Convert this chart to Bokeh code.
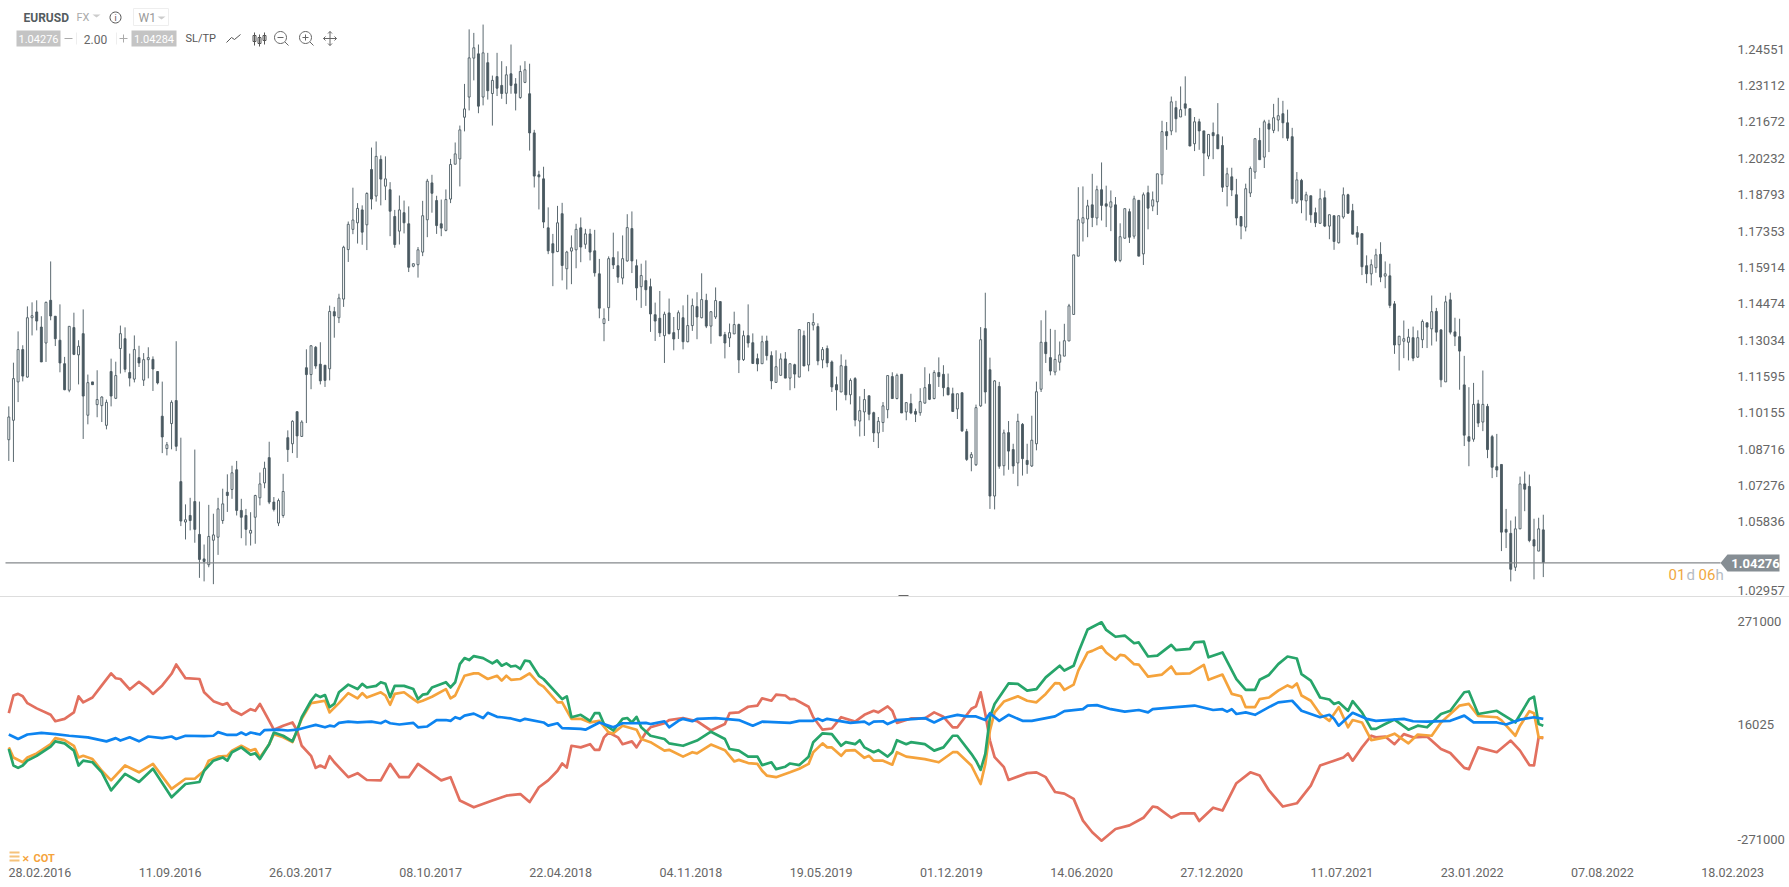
from math import cos, sin, pi
from bokeh.core.properties import value
from bokeh.embed import file_html
from bokeh.layouts import column
from bokeh.models import Div, FixedTicker, Range1d
from bokeh.plotting import figure
from bokeh.resources import INLINE

# EURUSD weekly candles, prices x 10000
opens = [10915,10992,11144,11272,11163,11398,11421,11361,11298,11467,
11404,11309,11216,11111,11359,11251,11335,11012,11144,11054,
11050,10972,11185,11079,11276,11315,11181,11155,11240,11151,
11232,11233,11185,11008,10880,10979,11070,10749,10589,10615,
10670,10540,10443,10420,10517,10529,10595,10707,10718,10796,
10635,10615,10545,10608,10685,10744,10844,10668,10585,10615,
10923,10899,11026,10928,11200,11173,11281,11214,11210,11196,
11422,11398,11472,11668,11748,11774,11825,11766,11985,11880,
12025,11919,11905,11799,11741,11814,11770,11602,11608,11658,
11786,11932,11862,11770,11744,11868,12006,12027,12192,12272,
12426,12443,12272,12408,12286,12353,12318,12287,12364,12324,
12270,12330,12285,12130,11964,11948,11754,11691,11660,11810,
11592,11662,11667,11754,11689,11730,11663,11572,11375,11438,
11636,11604,11555,11623,11751,11604,11521,11545,11521,11410,
11396,11327,11417,11339,11351,11398,11303,11367,11442,11398,
11467,11365,11401,11462,11331,11318,11334,11371,11232,11327,
11299,11236,11216,11306,11248,11142,11170,11235,11159,11212,
11163,11327,11211,11369,11363,11231,11276,11223,11133,11104,
11206,11093,11157,10989,11025,11089,11022,10942,10983,11034,
11165,11078,11174,11025,11058,11027,11022,11060,11134,11078,
11181,11174,11121,11097,11037,11101,10947,10844,10816,11049,
11355,11192,10692,11126,10812,10943,10876,10823,10976,10833,
10811,10899,11115,11301,11240,11183,11222,11246,11306,11411,
11642,11773,11789,11845,11793,11905,11849,11836,11845,11625,
11713,11818,11721,11863,11651,11893,11840,11857,11964,12135,
12138,12230,12193,12245,12226,12087,12174,12138,12038,12131,
12123,12080,11918,11956,11885,11799,11757,11892,11975,12100,
12034,12166,12140,12181,12206,12170,12115,11856,11942,11861,
11881,11814,11772,11873,11761,11802,11695,11797,11885,11822,
11735,11731,11604,11572,11596,11649,11563,11564,11453,11291,
11305,11301,11319,11242,11311,11378,11354,11423,11350,11144,
11469,11342,11323,11132,10927,10917,11057,10985,11047,10927,
10808,10817,10560,10544,10410,10562,10740,10730,10519,10474,10558]
highs = [11047,11220,11344,11289,11443,11459,11467,11404,11462,11621,
11404,11451,11243,11364,11418,11309,11431,11173,11144,11190,
11087,11074,11236,11224,11367,11360,11256,11328,11287,11258,
11281,11245,11187,11145,10906,11071,11305,10923,10659,10685,
10876,10670,10500,10657,10622,10685,10721,10778,10812,10831,
10681,10641,10628,10697,10785,10828,10907,10688,10682,10780,
10952,10992,11026,10992,11273,11289,11286,11301,11210,11446,
11441,11493,11683,11779,11913,11852,11843,11895,12072,12096,
12041,12037,11935,11825,11882,11862,11839,11612,11678,11861,
11948,11964,11881,11866,11906,12027,12092,12159,12324,12540,
12526,12480,12559,12447,12357,12447,12414,12394,12480,12347,
12397,12414,12404,12142,11980,11996,11835,11730,11841,11853,
11663,11724,11770,11795,11750,11750,11746,11631,11435,11641,
11735,11661,11724,11808,11819,11629,11612,11625,11553,11458,
11504,11422,11474,11401,11427,11447,11489,11474,11499,11574,
11493,11422,11518,11462,11342,11375,11422,11375,11347,11451,
11336,11256,11327,11327,11265,11269,11257,11262,11216,11216,
11351,11347,11379,11416,11376,11282,11288,11229,11165,11253,
11232,11158,11163,11087,11116,11089,11026,11005,11064,11169,
11182,11177,11174,11062,11097,11038,11119,11202,11177,11190,
11241,11210,11177,11121,11097,11101,10958,10866,11054,11361,
11497,11240,11151,11144,10955,10989,10899,11018,10981,10899,
11010,11145,11388,11427,11354,11350,11304,11374,11453,11647,
11915,11918,11865,11968,11921,12013,11921,11902,11876,11772,
11830,11830,11881,11863,11894,11921,11898,11968,12178,12173,
12274,12257,12314,12354,12226,12193,12186,12138,12124,12171,
12248,12116,11992,11992,11948,11799,11929,11997,12107,12150,
12182,12182,12245,12269,12257,12222,12150,11975,11948,11897,
11881,11834,11909,11901,11806,11802,11802,11914,11889,11849,
11761,11731,11645,11629,11671,11697,11621,11612,11464,11325,
11387,11354,11363,11348,11391,11378,11486,11437,11350,11485,
11497,11398,11394,11247,11123,11140,11073,11189,11057,10934,
10938,10817,10641,10595,10611,10769,10789,10777,10602,10606,10618]
lows = [10831,10827,11064,11146,11161,11328,11348,11223,11223,11388,
11286,11182,11111,11103,11250,11134,10918,10976,11133,11004,
10985,10956,11047,11076,11177,11182,11126,11142,11203,11128,
11158,11108,11134,10862,10853,10877,10870,10573,10520,10556,
10507,10368,10354,10410,10343,10459,10582,10629,10681,10615,
10525,10496,10496,10503,10655,10723,10660,10631,10573,10606,
10827,10862,10843,10926,10981,11115,11196,11134,11124,11150,
11319,11377,11441,11619,11729,11692,11687,11666,11827,11858,
11843,11864,11721,11675,11688,11732,11579,11598,11557,11642,
11717,11814,11730,11721,11740,11852,12006,11918,12136,12219,
12338,12208,12239,12262,12159,12276,12265,12244,12285,12219,
12265,12327,12060,11914,11827,11753,11650,11523,11658,11546,
11510,11531,11594,11618,11671,11625,11561,11396,11305,11385,
11591,11536,11530,11620,11575,11467,11437,11445,11342,11306,
11322,11219,11332,11269,11314,11273,11301,11346,11313,11396,
11357,11295,11393,11326,11237,11282,11334,11179,11227,11280,
11216,11186,11216,11229,11115,11142,11170,11159,11111,11119,
11163,11207,11186,11348,11210,11198,11202,11104,11031,11104,
11071,11055,10968,10928,10930,10992,10906,10882,10946,11000,
11078,11075,11021,10992,11016,10985,11010,11058,11072,11075,
11124,11087,11091,11025,10997,10946,10831,10790,10811,11045,
11058,10641,10639,10800,10773,10796,10780,10731,10773,10780,
10807,10873,11104,11219,11170,11170,11189,11246,11306,11411,
11642,11700,11717,11757,11764,11783,11757,11741,11618,11618,
11711,11694,11711,11642,11607,11748,11820,11805,11926,12063,
12121,12132,12193,12198,12078,12058,12063,11959,12026,12026,
12067,11896,11839,11880,11764,11709,11740,11876,11948,12024,
11991,12054,12129,12136,12109,12098,11849,11849,11812,11783,
11774,11757,11772,11757,11709,11667,11692,11790,11810,11729,
11687,11567,11535,11526,11576,11539,11515,11436,11255,11189,
11238,11229,11226,11239,11278,11278,11288,11304,11123,11144,
11332,11286,11113,10890,10810,10907,10965,10949,10842,10763,
10767,10474,10486,10354,10395,10562,10632,10509,10362,10474,10371]
closes = [11005,11157,11272,11167,11398,11406,11385,11223,11459,11405,
11315,11219,11113,11364,11253,11285,11088,11141,11133,11074,
11084,11063,11088,11169,11335,11194,11159,11272,11219,11232,
11240,11195,11140,10926,10895,11063,10889,10593,10598,10595,
10560,10441,10433,10532,10538,10641,10661,10694,10784,10635,
10608,10560,10556,10694,10740,10802,10668,10639,10674,10710,
10876,10988,10930,10985,11173,11287,11207,11148,11150,11423,
11405,11476,11677,11768,11785,11831,11737,11890,11868,12037,
11947,11948,11820,11688,11825,11774,11598,11612,11667,11802,
11939,11891,11763,11753,11866,12005,12047,12142,12225,12427,
12467,12236,12447,12297,12338,12307,12286,12360,12318,12287,
12373,12380,12130,11959,11956,11777,11663,11655,11774,11605,
11658,11675,11748,11678,11730,11658,11576,11436,11394,11632,
11607,11559,11632,11755,11623,11516,11565,11509,11413,11385,
11338,11412,11335,11314,11418,11303,11367,11446,11401,11470,
11365,11422,11466,11326,11298,11339,11371,11231,11327,11298,
11217,11215,11303,11248,11148,11204,11235,11159,11216,11175,
11351,11207,11379,11379,11227,11272,11219,11124,11112,11208,
11093,11150,10993,11030,11074,11016,10942,10988,11049,11169,
11078,11170,11021,11062,11021,11016,11066,11121,11075,11181,
11165,11121,11093,11027,11097,10950,10837,10856,11042,11311,
11104,10692,11148,10810,10942,10870,10811,10988,10840,10817,
10913,11105,11301,11256,11187,11233,11251,11307,11445,11647,
11786,11794,11841,11795,11905,11843,11840,11857,11625,11719,
11830,11717,11869,11642,11885,11832,11865,11968,12135,12119,
12253,12186,12222,12228,12078,12174,12138,12050,12124,12119,
12067,11915,11968,11904,11793,11761,11909,11989,12107,12024,
12174,12145,12190,12198,12170,12109,11869,11944,11864,11885,
11806,11774,11869,11761,11806,11700,11802,11885,11812,11729,
11717,11600,11572,11608,11647,11559,11572,11447,11290,11325,
11315,11321,11238,11319,11383,11361,11422,11341,11152,11461,
11341,11325,11266,10933,10909,11055,10981,11055,10876,10806,
10795,10549,10549,10402,10562,10740,10719,10516,10494,10562,10429]

# COT series: (week, contracts in thousands)
cot_red = [(0,43),(1,87),(2,91),(3,85),(4,68),(6,55),(9,39),(10,23),(12,29),(14,45),(15,85),(16,70),(18,82),(20,112),(22,142),(23,130),(24,128),(26,102),(28,121),(30,103),(31,91),(33,112),(35,141),(36,164),(38,130),(41,128),(42,95),(44,73),(46,64),(47,68),(48,51),(50,39),(52,53),(53,49),(54,66),(56,24),(57,2),(59,12),(61,20),(62,0),(63,-38),(65,-63),(66,-93),(67,-87),(68,-93),(69,-64),(70,-79),(73,-116),(75,-106),(77,-123),(80,-124),(82,-83),(84,-116),(86,-116),(88,-83),(91,-108),(93,-124),(95,-116),(97,-174),(100,-191),(104,-174),(107,-162),(110,-158),(112,-178),(114,-141),(116,-124),(118,-100),(119,-82),(120,-92),(121,-38),(123,-42),(125,-34),(126,-48),(127,-48),(128,-17),(129,-5),(131,-17),(132,-34),(134,-27),(135,-42),(137,-5),(138,8),(141,18),(142,26),(145,31),(148,23),(151,0),(154,16),(155,43),(157,45),(159,59),(161,62),(162,80),(164,74),(165,89),(167,87),(168,78),(169,78),(172,59),(173,33),(175,2),(177,5),(179,33),(182,22),(184,39),(186,49),(187,45),(189,60),(190,49),(191,19),(194,30),(197,30),(199,45),(201,34),(203,8),(204,8),(207,54),(208,60),(209,95),(210,41),(211,-25),(212,-66),(214,-91),(215,-123),(219,-106),(221,-104),(223,-116),(225,-153),(227,-157),(229,-170),(231,-224),(233,-253),(235,-274),(238,-245),(241,-236),(244,-217),(246,-189),(247,-191),(250,-217),(252,-206),(255,-206),(256,-225),(259,-192),(261,-199),(264,-131),(267,-104),(269,-112),(271,-149),(274,-189),(277,-181),(280,-137),(282,-87),(285,-75),(287,-67),(288,-57),(289,-75),(291,-42),(293,-13),(294,-17),(296,-15),(298,-34),(300,-9),(302,-17),(305,-15),(308,-46),(310,-56),(313,-93),(314,-96),(316,-42),(320,-54),(323,-25),(325,-50),(327,-86),(328,-87),(329,-17),(330,-19)]
cot_green = [(0,-46),(1,-87),(2,-93),(3,-87),(4,-75),(6,-63),(9,-40),(10,-27),(12,-32),(14,-50),(15,-87),(16,-75),(18,-79),(20,-104),(22,-149),(25,-108),(28,-128),(31,-95),(35,-166),(38,-133),(41,-128),(42,-100),(44,-75),(46,-67),(47,-75),(48,-54),(50,-42),(52,-60),(53,-57),(54,-71),(56,-34),(57,-5),(59,-13),(61,-27),(62,0),(63,33),(65,74),(66,89),(67,83),(68,88),(69,58),(70,66),(71,95),(73,114),(75,103),(76,116),(77,107),(79,111),(80,120),(81,116),(82,83),(83,111),(85,111),(87,103),(88,78),(89,89),(90,91),(91,107),(94,120),(95,107),(96,120),(97,165),(98,180),(99,175),(100,185),(102,180),(104,167),(105,174),(106,161),(107,167),(108,159),(109,161),(110,153),(111,174),(112,172),(114,136),(115,128),(119,78),(120,85),(121,33),(123,39),(125,24),(126,43),(127,43),(128,16),(130,0),(132,29),(133,31),(134,20),(135,34),(136,8),(138,-13),(141,-21),(142,-32),(145,-38),(148,-25),(151,-3),(154,-21),(155,-46),(157,-50),(159,-65),(161,-65),(162,-86),(164,-79),(165,-96),(167,-90),(168,-82),(170,-86),(172,-65),(173,-29),(175,-7),(177,-9),(179,-38),(180,-29),(182,-34),(183,-24),(184,-42),(186,-54),(187,-49),(189,-65),(190,-54),(191,-24),(193,-34),(194,-29),(197,-34),(199,-50),(201,-42),(203,-13),(204,-13),(207,-58),(208,-75),(209,-98),(210,-58),(211,33),(212,66),(215,117),(217,116),(219,99),(221,103),(223,132),(226,161),(227,149),(229,161),(230,194),(232,251),(235,269),(236,250),(238,233),(240,236),(242,217),(243,219),(245,184),(247,186),(250,213),(251,200),(254,203),(255,219),(257,221),(258,182),(261,194),(264,128),(266,101),(268,101),(269,126),(271,138),(273,165),(275,184),(277,179),(278,140),(280,124),(282,82),(284,77),(285,66),(286,70),(288,49),(289,73),(291,45),(293,4),(294,4),(296,16),(298,27),(301,2),(303,12),(305,8),(308,41),(310,49),(313,95),(314,97),(316,41),(320,49),(324,20),(325,39),(327,78),(328,84),(329,16),(330,12)]
cot_orange = [(0,-42),(1,-67),(3,-79),(4,-67),(6,-57),(9,-34),(10,-19),(12,-24),(14,-38),(15,-67),(16,-63),(18,-71),(20,-100),(22,-124),(25,-87),(28,-104),(31,-83),(35,-145),(38,-120),(40,-120),(42,-100),(43,-75),(45,-65),(47,-63),(48,-50),(50,-38),(52,-50),(53,-46),(54,-67),(56,-34),(57,-9),(59,-17),(61,-29),(62,0),(63,29),(65,68),(66,70),(68,74),(69,45),(71,68),(73,93),(75,80),(76,93),(77,82),(80,95),(81,87),(82,64),(83,91),(85,95),(87,78),(88,70),(89,74),(91,84),(94,103),(95,80),(96,87),(98,136),(100,142),(101,142),(103,128),(105,136),(106,124),(107,136),(108,126),(110,128),(112,142),(114,116),(115,109),(118,70),(119,70),(121,29),(123,29),(125,20),(127,24),(129,-5),(130,-7),(132,12),(135,2),(136,-21),(138,-29),(141,-50),(142,-48),(145,-65),(147,-54),(148,-57),(151,-35),(154,-49),(156,-77),(157,-73),(159,-81),(161,-83),(162,-100),(163,-112),(165,-116),(168,-104),(170,-95),(172,-83),(173,-54),(175,-32),(176,-42),(177,-42),(179,-63),(180,-50),(182,-49),(184,-68),(185,-63),(186,-75),(188,-75),(190,-85),(191,-54),(193,-65),(197,-71),(200,-79),(203,-54),(204,-54),(207,-87),(209,-133),(210,-83),(211,0),(212,45),(214,72),(217,85),(219,74),(221,70),(223,91),(225,118),(226,117),(227,101),(229,114),(230,149),(232,194),(233,198),(235,209),(236,194),(238,176),(239,188),(240,186),(242,165),(243,164),(245,134),(248,139),(249,149),(250,159),(251,141),(254,142),(257,163),(258,126),(261,139),(263,91),(265,85),(266,58),(268,58),(269,78),(271,82),(273,99),(275,112),(276,107),(277,117),(278,87),(280,74),(282,41),(284,24),(286,58),(288,8),(289,26),(291,20),(293,-24),(296,-17),(298,-8),(301,-32),(303,-10),(306,-13),(308,20),(312,62),(314,66),(316,36),(320,33),(321,25),(324,-13),(325,12),(327,48),(328,43),(329,-17),(330,-17)]
cot_blue = [(0,-10),(2,-21),(4,-10),(7,-6),(10,-9),(13,-13),(17,-17),(21,-27),(23,-19),(24,-25),(26,-17),(28,-27),(30,-15),(33,-19),(35,-15),(36,-21),(38,-13),(42,-14),(44,-13),(45,-4),(47,-11),(49,-11),(50,-5),(51,-11),(52,-5),(54,-10),(55,1),(58,2),(60,0),(62,2),(64,8),(66,14),(68,8),(69,12),(70,10),(71,19),(73,22),(75,20),(78,22),(80,18),(81,24),(82,18),(84,15),(87,19),(88,8),(90,10),(92,26),(94,26),(95,24),(96,33),(97,29),(98,37),(100,42),(102,31),(103,44),(105,34),(106,33),(108,30),(110,24),(111,29),(115,20),(116,12),(118,18),(119,6),(123,4),(124,2),(127,20),(130,8),(132,18),(134,18),(137,19),(138,16),(141,23),(142,8),(144,24),(145,29),(147,23),(148,29),(152,31),(157,26),(160,12),(162,22),(168,19),(170,24),(173,24),(174,29),(175,24),(176,29),(181,19),(184,22),(185,15),(186,22),(188,23),(189,16),(191,26),(195,29),(197,31),(199,20),(201,31),(204,39),(206,35),(208,35),(210,26),(211,43),(213,24),(215,39),(218,24),(220,24),(225,35),(227,48),(231,53),(232,62),(234,63),(237,53),(240,47),(243,51),(245,45),(246,53),(251,58),(255,62),(259,51),(261,53),(262,47),(263,53),(264,41),(266,45),(268,39),(271,58),(273,70),(276,74),(278,49),(282,33),(284,39),(285,29),(286,12),(289,44),(292,29),(294,24),(300,29),(302,23),(305,22),(310,24),(313,37),(315,20),(320,20),(322,15),(325,27),(328,33),(330,29)]

price_ticks = [1.24551,1.23112,1.21672,1.20232,1.18793,1.17353,1.15914,1.14474,1.13034,1.11595,1.10155,1.08716,1.07276,1.05836,1.02957]
cot_ticks = [271000,16025,-271000]
date_labels = ["28.02.2016","11.09.2016","26.03.2017","08.10.2017","22.04.2018","04.11.2018","19.05.2019","01.12.2019","14.06.2020","27.12.2020","11.07.2021","23.01.2022","07.08.2022","18.02.2023"]
last_price = 1.04276
ask_price = 1.04284

W, FONT = 1789, "Roboto"
DARK = "#4a5961"
X0, Y0 = 8.3, 562.3   # reference pixel of week 0 and of the last price
PX_W, PX_P = 4.65, 0.000396   # pixel per week, price per pixel
wk = lambda px: (px - X0) / PX_W
pr = lambda py: last_price + (Y0 - py) * PX_P
cv = lambda py: (730 - py) * 2486

x_range = Range1d(wk(0), wk(1789))
top = figure(width=W, height=596, output_backend="svg", toolbar_location=None,
             x_range=x_range, y_range=Range1d(pr(596), pr(0)),
             y_axis_location="right", x_axis_location=None,
             min_border=0, outline_line_color=None)
top.frame_width, top.frame_height = W, 596
bot = figure(width=W, height=290, output_backend="svg", toolbar_location=None,
             x_range=x_range, y_range=Range1d(cv(862), cv(597)),
             y_axis_location="right", min_border=0, outline_line_color=None)
bot.frame_width, bot.frame_height = W, 265

def axis_style(ax):
    ax.axis_line_color = None
    ax.major_tick_line_color = None
    ax.minor_tick_line_color = None
    ax.major_label_text_font = FONT
    ax.major_label_text_font_size = "13px"
    ax.major_label_text_color = "#666666"

for f in (top, bot):
    f.grid.visible = False
    f.background_fill_color = "white"
    f.border_fill_color = "white"
    axis_style(f.yaxis[0])
    f.yaxis[0].major_label_standoff = -58

# price axis; labels sit just above their level and the lowest is pushed up by the chart
LABEL_LIFT = 0.0006
label_pos = [t + LABEL_LIFT if t > 1.03 else pr(589.7) for t in price_ticks]
top.yaxis[0].ticker = FixedTicker(ticks=label_pos)
top.yaxis[0].major_label_overrides = {p: f"{t:.5f}" for p, t in zip(label_pos, price_ticks)}
bot.yaxis[0].ticker = FixedTicker(ticks=cot_ticks)
bot.yaxis[0].major_label_overrides = {t: str(t) for t in cot_ticks}

# dates are left-aligned to their week in the original, so shift the centred axis label
LABEL_SHIFT = 6.7
date_weeks = [28 * i + LABEL_SHIFT for i in range(len(date_labels))]
ax = bot.xaxis[0]
axis_style(ax)
ax.major_label_text_font_size = "12.5px"
ax.ticker = FixedTicker(ticks=date_weeks)
ax.major_label_overrides = dict(zip(date_weeks, date_labels))
ax.major_label_standoff = -1

# candles
weeks = list(range(len(opens)))
O = [v / 1e4 for v in opens]; H = [v / 1e4 for v in highs]
L = [v / 1e4 for v in lows]; C = [v / 1e4 for v in closes]
top.segment(weeks, H, weeks, L, line_color=DARK, line_width=0.9)
up = [i for i in weeks if C[i] >= O[i]]
dn = [i for i in weeks if C[i] < O[i]]
top.vbar([i for i in dn], 0.42, [O[i] for i in dn], [C[i] for i in dn],
         fill_color=DARK, line_color=DARK, line_width=0.9)
top.vbar([i for i in up], 0.42, [C[i] for i in up], [O[i] for i in up],
         fill_color="white", line_color=DARK, line_width=0.9)

# last price line, badge and countdown
top.line([wk(5), wk(1720)], [last_price, last_price], line_color="#85898c", line_width=1.2)
top.patch([wk(v) for v in (1720, 1727, 1779, 1779, 1727)],
          [pr(v) for v in (562.5, 554, 554, 571, 571)], fill_color="#868e94", line_color=None)

def txt(f, x, y, s, color="#555555", size=12, bold=False, align="left"):
    f.text([x], [y], text=[s], text_color=color, text_font=value(FONT),
           text_font_size=f"{size}px", text_font_style="bold" if bold else "normal",
           text_align=align, text_baseline="middle")

def t_top(px, py, s, **k):
    txt(top, wk(px), pr(py), s, **k)

def ln(pts, color="#666666", width=1):
    top.line([wk(p[0]) for p in pts], [pr(p[1]) for p in pts], line_color=color, line_width=width)

def ring(cx, cy, r, color="#666666"):
    ln([(cx + r * cos(a * pi / 12), cy + r * sin(a * pi / 12)) for a in range(25)], color)

def box(x0, y0, x1, y1, color):
    top.patch([wk(v) for v in (x0, x1, x1, x0)], [pr(v) for v in (y0, y0, y1, y1)],
              fill_color=color, line_color=None)

t_top(1755, 563, f"{last_price:.5f}", color="white", size=13, bold=True, align="center")
for px, s, c in [(1668, "01", "#f0a840"), (1686, "d", "#b5bcc4"), (1698, "06", "#f0a840"), (1715, "h", "#b5bcc4")]:
    t_top(px, 574, s, color=c, size=15)

# header strip
t_top(23, 17, "EURUSD", color="#555c60", size=12, bold=True)
t_top(76, 17, "FX", color="#aaaaaa", size=11)
top.patch([wk(92), wk(100), wk(96)], [pr(14), pr(14), pr(17)], fill_color="#cccccc", line_color=None)
ring(115, 17, 5.5, "#555555")
t_top(115, 17, "i", color="#555555", size=9, align="center")
ln([(133, 8), (168, 8), (168, 25), (133, 25), (133, 8)], "#eeeeee")
t_top(138, 17, "W1", color="#999999", size=12)
top.patch([wk(157), wk(165), wk(161)], [pr(16), pr(16), pr(19)], fill_color="#cccccc", line_color=None)
box(16, 30, 60, 46, "#c4c4c4")
box(131, 30, 176, 46, "#c4c4c4")
t_top(38, 38.5, f"{last_price:.5f}", color="white", size=11, align="center")
t_top(153.5, 38.5, f"{ask_price:.5f}", color="white", size=11, align="center")
ln([(64, 38), (72, 38)], "#aaaaaa")
ln([(119, 38), (127, 38)], "#aaaaaa")
ln([(123, 34), (123, 42)], "#aaaaaa")
ln([(76, 32), (76, 44)], "#eeeeee")
ln([(116, 32), (116, 44)], "#eeeeee")
t_top(95, 38.5, "2.00", color="#666666", size=12, align="center")
t_top(185, 38, "SL/TP", color="#555555", size=11)
ln([(226, 42), (231, 37), (234, 39), (240, 34)], "#555555")
for cx, (a, b, c, d) in [(254, (32, 35, 41, 45)), (259, (34, 37, 43, 46)), (264, (32, 35, 40, 44))]:
    ln([(cx, a), (cx, d)], "#555555")
    ln([(cx - 1.5, b), (cx + 1.5, b), (cx + 1.5, c), (cx - 1.5, c), (cx - 1.5, b)], "#555555")
ring(280, 37, 6)
ln([(284.5, 41.5), (288, 45)])
ln([(277, 37), (283, 37)])
ring(305, 37, 6)
ln([(309.5, 41.5), (313, 45)])
ln([(302, 37), (308, 37)])
ln([(305, 34), (305, 40)])
ln([(323, 38), (336, 38)])
ln([(329.5, 31), (329.5, 45)])
for a, b, c in [((325, 36), (323, 38), (325, 40)), ((334, 36), (336, 38), (334, 40)),
                ((327.5, 33), (329.5, 31), (331.5, 33)), ((327.5, 43), (329.5, 45), (331.5, 43))]:
    ln([a, b, c])
box(898, 594.5, 908, 596, "#666666")

# COT lines
for series, color in [(cot_red, "#e2705f"), (cot_orange, "#f5a33c"), (cot_green, "#27a56a"), (cot_blue, "#0d84f0")]:
    bot.line([p[0] for p in series], [p[1] * 1000 for p in series],
             line_color=color, line_width=2.7, line_join="round")

# COT tag bottom left
for py in (854, 858, 862):
    bot.line([wk(9), wk(19)], [cv(py - 2), cv(py - 2)], line_color="#f5c27a", line_width=2)
txt(bot, wk(21), cv(858), "✕", color="#f5a33c", size=9, bold=True)
txt(bot, wk(33), cv(858), "COT", color="#f5a33c", size=11, bold=True)

sep = Div(width=W, height=1, styles={"background-color": "#dddddd"}, margin=(0, 0, 0, 0))
top.margin = (0, 0, 0, 0)
bot.margin = (0, 0, 0, 0)
page = column(top, sep, bot, spacing=0, margin=(0, 0, 0, 0))
open("out.html", "w").write(file_html(page, INLINE))
